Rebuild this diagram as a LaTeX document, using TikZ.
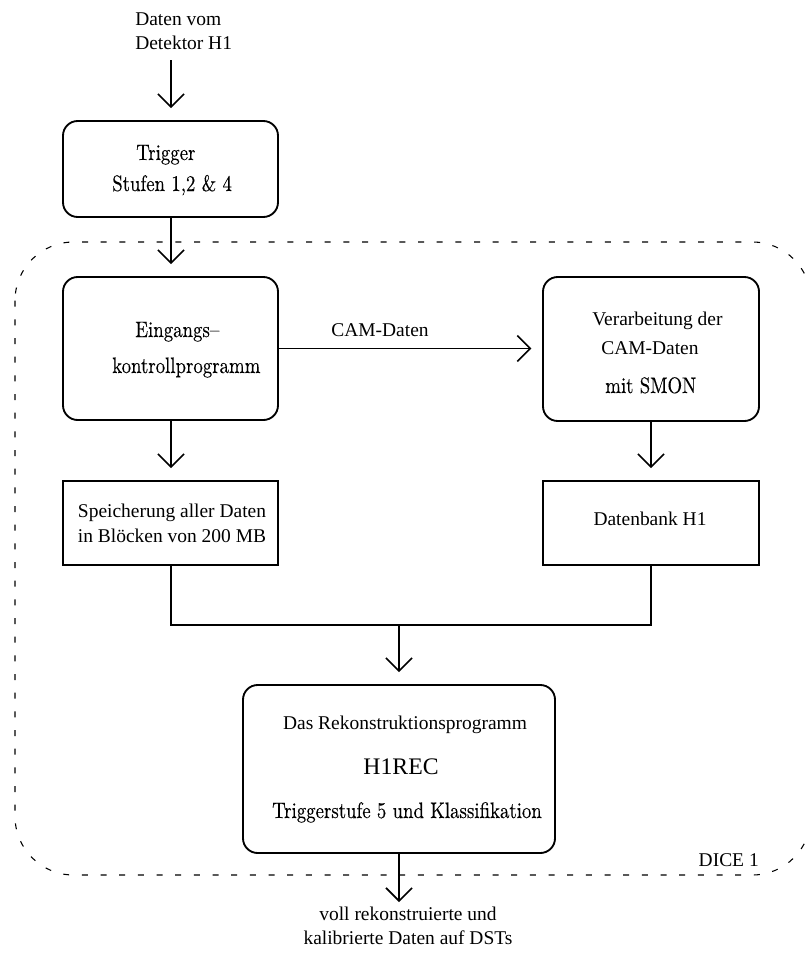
\documentclass[tikz,border=0pt]{standalone}
\usepackage{fontspec}
\usepackage{tikz}
\usetikzlibrary{arrows.meta, positioning, calc}
\setmainfont{Liberation Serif}
\newfontfamily\condfont{lmroman10-regular.otf}[FakeStretch=0.84, FakeBold=0.25, Ligatures=TeX]
\definecolor{linecol}{HTML}{000000}
\definecolor{pagebg}{HTML}{FFFFFF}
\tikzstyle{roundbox} = [rectangle, rounded corners=11pt, draw=linecol, line width=1.4pt, fill=pagebg, minimum width=161.25pt]
\tikzstyle{plainbox} = [rectangle, draw=linecol, line width=1.4pt, fill=pagebg, minimum width=161.25pt, minimum height=63pt]
\tikzstyle{arrow} = [line width=1.2pt, -{Straight Barb[length=9.75pt, width=19.5pt]}, color=linecol]
\tikzstyle{wire} = [line width=1.2pt, color=linecol]
\tikzstyle{times} = [inner sep=0pt, font=\fontsize{14.6pt}{18pt}\selectfont]
\tikzstyle{cond} = [inner sep=0pt, font=\fontsize{16.8pt}{20pt}\condfont]
\tikzstyle{dicebox} = [line width=0.8pt, dash pattern=on 4.5pt off 9.5pt, rounded corners=44pt]

\begin{document}
\begin{tikzpicture}[x=0.75pt, y=-0.75pt]
    \useasboundingbox (0,0) rectangle (807,953);
    \clip (0,0) rectangle (807,953);

    % DICE 1 region
    \draw[dicebox] (15,242) rectangle (811,875);
    \node[times, anchor=base east] (dice) at (759,866) {DICE 1};

    % Input
    \node[times, anchor=base west] (daten) at (135,25) {Daten vom};
    \node[times, anchor=base west] (detektor) at (135,49) {Detektor H1};
    \coordinate (in) at (171,60);

    % Trigger
    \node[roundbox, minimum height=72pt] (trigger) at (170.5,169) {};
    \node[cond, anchor=base west] (trigA) at (136,160) {Trigger};
    \node[cond, anchor=base west] (trigB) at (112,191) {Stufen 1,2 \& 4};

    % Eingangskontrolle and CAM row
    \node[roundbox, minimum height=107.25pt] (eingang) at (170.5,348.5) {};
    \node[cond, anchor=base west] (eingA) at (135,337) {Eingangs--};
    \node[cond, anchor=base west] (eingB) at (112,373) {kontrollprogramm};
    \node[roundbox, minimum width=162pt, minimum height=108pt] (verarb) at (651,349) {};
    \node[times, anchor=base west] (verA) at (592,325) {Verarbeitung der};
    \node[times, anchor=base west] (verB) at (601,354) {CAM-Daten};
    \node[cond, anchor=base west] (verC) at (605,393) {mit SMON};
    \node[times, anchor=base] (camlab) at (380,336) {CAM-Daten};

    % Storage row
    \node[plainbox] (speicher) at (170.5,523) {};
    \node[times, anchor=base] (speiA) at (172,517) {Speicherung aller Daten};
    \node[times, anchor=base] (speiB) at (172,542) {in Bl\"ocken von 200 MB};
    \node[plainbox, minimum width=162pt] (datenbank) at (651,523) {};
    \node[times, anchor=base] (dbank) at (650,525) {Datenbank H1};

    % Reconstruction
    \node[roundbox, minimum width=234pt, minimum height=126pt] (rekon) at (399,769) {};
    \node[times, anchor=base] (rekA) at (405,729) {Das Rekonstruktionsprogramm};
    \node[inner sep=0pt, font=\fontsize{17.8pt}{21pt}\selectfont, anchor=base] (rekB) at (401,774) {H1REC};
    \node[cond, anchor=base] (rekC) at (407,818) {Triggerstufe 5 und Klassifikation};

    % Output
    \coordinate (merge) at (399,625);
    \coordinate (out) at (399,902);
    \node[times, anchor=base] (vollA) at (408,920) {voll rekonstruierte und};
    \node[times, anchor=base] (vollB) at (408,944) {kalibrierte Daten auf DSTs};

    % Arrows
    \draw[arrow, shorten >=9pt] (in) -- (in |- trigger.north);
    \draw[arrow, shorten >=9pt] (trigger.south -| in) -- (eingang.north -| in);
    \draw[arrow, shorten >=8pt] (eingang.east) -- (eingang.east -| verarb.west);
    \draw[arrow, shorten >=9pt] (eingang.south -| in) -- (speicher.north -| in);
    \draw[arrow, shorten >=9pt] (verarb.south) -- (datenbank.north);
    \draw[wire] (speicher.south -| in) |- (merge) -| (datenbank.south);
    \draw[arrow, shorten >=9pt] (merge) -- (rekon.north);
    \draw[arrow] (rekon.south) -- (out);
\end{tikzpicture}
\end{document}
